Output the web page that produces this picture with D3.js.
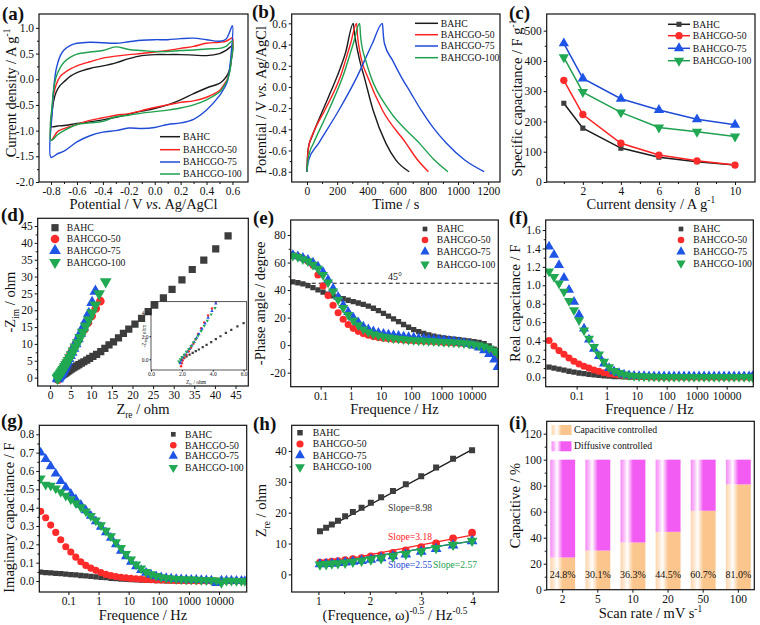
<!DOCTYPE html>
<html>
<head>
<meta charset="utf-8">
<script src="https://cdn.jsdelivr.net/npm/d3@7"></script>
<style>
  body { margin: 0; background: #fff; }
  svg text { font-family: "Liberation Serif", "Times New Roman", serif; fill: #111; }
</style>
</head>
<body>
<div id="viz"></div>
<script>
// ---------- data ----------
const samples = ['BAHC', 'BAHCGO-50', 'BAHCGO-75', 'BAHCGO-100'];

// (a) CV loops: forward (anodic) branch then reverse branch
const cvForwardV = [-0.8,-0.79,-0.78,-0.76,-0.73,-0.7,-0.65,-0.6,-0.5,-0.4,-0.3,-0.2,-0.1,0,0.1,0.2,0.3,0.4,0.5,0.55,0.6];
const cvReverseV = [0.6,0.59,0.58,0.56,0.53,0.5,0.4,0.3,0.2,0.1,0,-0.1,-0.2,-0.3,-0.4,-0.5,-0.6,-0.7,-0.75,-0.8];
const cvForwardI = [
  [-0.92,-0.6,-0.42,-0.25,-0.12,-0.05,0.06,0.13,0.21,0.26,0.32,0.4,0.46,0.48,0.48,0.48,0.47,0.46,0.5,0.56,0.65],
  [-1.19,-0.55,-0.3,-0.1,0.05,0.12,0.2,0.26,0.34,0.41,0.45,0.48,0.5,0.53,0.56,0.6,0.64,0.7,0.72,0.74,0.8],
  [-1.52,-0.6,-0.2,0.2,0.45,0.57,0.66,0.7,0.72,0.71,0.7,0.73,0.76,0.77,0.77,0.79,0.8,0.77,0.74,0.78,1.04],
  [-1.19,-0.45,-0.2,0.05,0.22,0.33,0.43,0.49,0.53,0.56,0.63,0.58,0.56,0.54,0.54,0.56,0.57,0.59,0.6,0.64,0.74]
];
const cvReverseI = [
  [0.65,0.35,0.2,0.08,-0.02,-0.08,-0.17,-0.28,-0.4,-0.5,-0.57,-0.62,-0.68,-0.74,-0.79,-0.83,-0.86,-0.9,-0.91,-0.93],
  [0.8,0.4,0.2,0.0,-0.12,-0.22,-0.35,-0.42,-0.45,-0.5,-0.55,-0.61,-0.67,-0.7,-0.75,-0.8,-0.88,-0.96,-1.02,-1.18],
  [1.04,0.5,0.25,-0.05,-0.2,-0.32,-0.6,-0.78,-0.85,-0.88,-0.94,-0.96,-0.95,-1.0,-1.03,-1.1,-1.22,-1.4,-1.45,-1.55],
  [0.74,0.35,0.15,-0.02,-0.15,-0.25,-0.4,-0.5,-0.56,-0.6,-0.63,-0.66,-0.7,-0.73,-0.82,-0.85,-0.88,-1.0,-1.08,-1.2]
];

// (b) GCD curves
const gcdTime = [
  [0,4,11,33,78,144,200,255,307,315,322,349,378,438,522,589,677],
  [0,4,12,40,118,222,289,329,335,342,362,400,500,655,733,804],
  [0,4,11,78,211,333,433,500,505,513,567,622,689,756,833,922,1044,1173],
  [0,6,15,44,144,238,307,349,355,362,389,422,544,744,844,933]
];
const gcdVolt = [
  [-0.8,-0.65,-0.56,-0.47,-0.31,-0.09,0.1,0.32,0.6,0.5,0.44,0.25,0.1,-0.22,-0.53,-0.69,-0.8],
  [-0.8,-0.67,-0.56,-0.44,-0.22,0.1,0.41,0.6,0.48,0.4,0.25,0.1,-0.22,-0.53,-0.69,-0.8],
  [-0.8,-0.74,-0.69,-0.53,-0.22,0.1,0.41,0.6,0.5,0.41,0.25,0.1,-0.06,-0.22,-0.38,-0.53,-0.69,-0.8],
  [-0.8,-0.7,-0.63,-0.53,-0.22,0.1,0.41,0.6,0.48,0.4,0.25,0.1,-0.22,-0.53,-0.69,-0.8]
];

// (c) rate capability
const currentDensity = [1, 2, 4, 6, 8, 10];
const specCap = [
  [260, 178, 112, 82, 67, 56],
  [336, 223, 128, 89, 70, 56],
  [458, 342, 275, 238, 207, 189],
  [412, 297, 230, 180, 166, 150]
];

// (d) Nyquist
const nyqX = [
  [1.9,2.0,2.15,2.3,2.5,2.7,2.9,3.1,3.35,3.6,3.9,4.2,4.5,4.85,5.2,5.6,6.0,6.5,7.0,7.6,8.2,8.9,9.6,10.4,11.3,12.3,13.3,14.3,15.4,16.6,17.8,19.1,20.6,22.2,23.8,25.4,27.5,29.6,32.0,34.5,37.3,40.2,43.2],
  [1.95,2.0,2.05,2.15,2.3,2.45,2.6,2.75,2.9,3.05,3.25,3.45,3.7,3.95,4.2,4.5,4.85,5.25,5.7,6.2,6.8,7.5,8.3,9.2,10.1,11.1,12.2],
  [1.9,1.95,2.05,2.2,2.35,2.5,2.65,2.8,2.95,3.1,3.3,3.5,3.7,3.95,4.2,4.5,4.85,5.25,5.7,6.2,6.75,7.35,8.0,8.7,9.4,10.2,11.0],
  [1.8,1.9,2.0,2.15,2.3,2.45,2.6,2.75,2.9,3.05,3.25,3.45,3.65,3.9,4.15,4.45,4.8,5.2,5.65,6.15,6.7,7.3,7.95,8.65,9.4,10.2,11.0,11.9,13.5]
];
const nyqY = [
  [-0.3,-0.05,0.1,0.25,0.4,0.55,0.7,0.85,1.05,1.25,1.5,1.75,2.0,2.3,2.55,2.85,3.15,3.5,3.85,4.3,4.7,5.2,5.7,6.3,6.9,7.7,8.7,9.7,10.6,11.8,13.1,14.4,15.9,17.6,19.6,21.5,23.7,26.2,29.0,32.1,34.9,38.2,42.1],
  [-0.6,-0.35,-0.1,0.15,0.4,0.7,1.0,1.35,1.75,2.2,2.7,3.2,3.8,4.4,5.0,5.8,6.6,7.6,8.6,9.8,11.1,12.7,14.3,16.3,18.3,20.5,22.7],
  [-0.35,-0.1,0.15,0.4,0.65,0.9,1.2,1.5,1.85,2.2,2.65,3.1,3.6,4.2,4.85,5.6,6.5,7.5,8.7,10.0,11.5,13.1,14.9,16.9,19.0,22.3,25.6],
  [-0.2,0,0.2,0.4,0.65,0.9,1.15,1.45,1.75,2.05,2.45,2.9,3.35,3.9,4.45,5.1,5.9,6.8,7.9,9.1,10.4,11.9,13.5,15.3,17.2,19.3,21.6,24.9,28.5]
];

// (e)-(g) Bode-type data, shared frequency list (Hz)
const freqHz = [0.012,0.0176,0.0258,0.0379,0.0556,0.0816,
  0.12,0.176,0.258,0.379,0.556,0.816,
  1.2,1.76,2.58,3.79,5.56,8.16,
  12,17.6,25.8,37.9,55.6,81.6,
  120,176,258,379,556,816,
  1200,1760,2580,3790,5560,8160,
  12000,17600,25800,37900,55600,72000];
const phaseDeg = [
  [46,45.3,44.5,43.2,41.8,40.2,38.5,37,35.8,34.7,33.7,32.6,31.6,30.6,29.6,28.3,26.8,25,23,21,19,17,15,13,11.2,9.8,8.5,7.4,6.5,5.8,5.2,4.7,4.3,3.9,3.5,3.1,2.6,2,1,-0.5,-3,-7],
  [65.5,64.5,63,61,58,51,43,36,29,23.5,18.8,15,12.2,10,8.4,7.2,6.2,5.5,5,4.6,4.3,4,3.7,3.4,3.2,3,2.8,2.6,2.4,2.2,2,1.8,1.6,1.3,1,0.6,0,-0.8,-2,-3.5,-5.5,-8.5],
  [65.5,64.5,63.5,62,60,57,53,47.5,41,35,29,24,20,16.5,13.5,11.5,10,9,8.3,7.7,7.2,6.7,6.2,5.8,5.4,5,4.7,4.4,4.1,3.8,3.5,3.1,2.7,2.2,1.6,0.8,-0.3,-1.8,-3.8,-6.5,-10.5,-16],
  [65,64,62.5,61,58.5,55.5,51,45.5,39,33,27,22,18,14.5,11.5,9.5,8,7,6.2,5.6,5.1,4.7,4.3,4,3.7,3.4,3.2,3,2.8,2.6,2.4,2.2,2,1.8,1.5,1.1,0.6,0,-1,-2.3,-4,-6]
];
const realCap = [
  [0.11,0.10,0.088,0.077,0.066,0.056,0.047,0.039,0.032,0.026,0.021,0.016,0.012,0.009,0.007,0.005,0.003,0.002,0.001,0.001,0,0,0,0,0,0,0,0,0,0,0,0,0,0,0,0,0,0,0,0,0,0],
  [0.40,0.34,0.29,0.25,0.21,0.175,0.145,0.12,0.10,0.08,0.065,0.05,0.04,0.032,0.025,0.019,0.014,0.01,0.007,0.005,0.003,0.002,0.001,0,0,0,0,0,0,0,0,0,0,0,0,0,0,0,0,0,0,0],
  [1.42,1.33,1.22,1.08,0.95,0.82,0.68,0.53,0.41,0.31,0.23,0.15,0.10,0.065,0.045,0.03,0.022,0.016,0.014,0.013,0.012,0.012,0.012,0.012,0.012,0.012,0.012,0.012,0.012,0.012,0.012,0.012,0.012,0.012,0.012,0.012,0.012,0.012,0.012,0.012,0.012,0.012],
  [1.15,1.09,1.02,0.93,0.83,0.73,0.62,0.51,0.42,0.33,0.25,0.17,0.11,0.07,0.048,0.032,0.022,0.016,0.012,0.009,0.007,0.006,0.005,0.004,0.004,0.003,0.003,0.003,0.003,0.003,0.003,0.003,0.003,0.003,0.003,0.003,0.003,0.003,0.003,0.003,0.003,0.003]
];
const imagCap = [
  [0.048,0.046,0.044,0.042,0.04,0.038,0.035,0.033,0.03,0.028,0.025,0.023,0.02,0.018,0.015,0.013,0.011,0.009,0.007,0.006,0.005,0.004,0.003,0.002,0.002,0.001,0.001,0.001,0,0,0,0,0,0,0,0,0,0,0,0,0,0],
  [0.38,0.345,0.305,0.265,0.225,0.187,0.158,0.13,0.105,0.085,0.07,0.058,0.046,0.036,0.029,0.024,0.02,0.017,0.014,0.012,0.01,0.008,0.007,0.006,0.005,0.004,0.003,0.002,0.002,0.001,0.001,0,0,0,0,0,0,0,0,0,0,0],
  [0.70,0.665,0.625,0.585,0.545,0.51,0.475,0.445,0.415,0.385,0.355,0.325,0.295,0.265,0.235,0.2,0.165,0.135,0.105,0.08,0.06,0.045,0.034,0.026,0.02,0.016,0.013,0.011,0.009,0.008,0.007,0.006,0.005,0.004,0.003,-0.012,0.003,0.002,0.002,0.001,0.001,0],
  [0.56,0.525,0.52,0.505,0.485,0.465,0.445,0.425,0.403,0.38,0.355,0.33,0.305,0.275,0.245,0.212,0.18,0.148,0.118,0.09,0.068,0.05,0.037,0.028,0.021,0.017,0.014,0.012,0.01,0.009,0.008,0.007,0.006,0.005,0.004,0.003,-0.01,0.002,0.002,0.001,0.001,0]
];

// (h) Zre vs omega^-0.5
const omegaInv = [1.03,1.15,1.26,1.38,1.52,1.67,1.84,2.02,2.22,2.45,2.70,3.0,3.29,3.62,3.99];
const zre = [
  [14.0,15.1,16.2,17.4,18.8,20.2,21.6,23.2,25.0,27.0,29.2,31.8,34.6,37.5,40.2],
  [3.8,3.9,4.1,4.3,4.6,4.9,5.3,5.8,6.2,7.0,7.8,8.8,10.0,11.7,13.5],
  [3.3,3.4,3.5,3.7,3.9,4.1,4.4,4.8,5.3,5.9,6.5,7.4,8.3,9.4,10.8],
  [3.2,3.3,3.5,3.6,3.8,4.1,4.4,4.8,5.2,5.8,6.6,7.5,8.5,9.6,10.9]
];
const fitSlope = [8.98, 3.18, 2.55, 2.57];
const fitIntercept = [4.6, 0.0, 0.6, 0.5];

// (i) capacitive contribution
const scanRates = ['2', '5', '10', '20', '50', '100'];
const capacitivePct = [24.8, 30.1, 36.3, 44.5, 60.7, 81.0];

// tick values
const ticksA = { x: [-0.8,-0.6,-0.4,-0.2,0,0.2,0.4,0.6], y: [-2.0,-1.5,-1.0,-0.5,0,0.5,1.0] };
const ticksB = { x: [0,200,400,600,800,1000,1200], y: [-0.8,-0.6,-0.4,-0.2,0,0.2,0.4,0.6] };
const ticksC = { x: [2,4,6,8,10], y: [0,100,200,300,400,500] };
const ticksD = { x: [0,5,10,15,20,25,30,35,40,45], y: [0,5,10,15,20,25,30,35,40,45] };
const ticksLog = [0.1, 1, 10, 100, 1000, 10000];
const ticksE = [-20, 0, 20, 40, 60, 80];
const ticksF = [0,0.2,0.4,0.6,0.8,1.0,1.2,1.4,1.6];
const ticksG = [0,0.1,0.2,0.3,0.4,0.5,0.6,0.7,0.8];
const ticksH = { x: [1,2,3,4], y: [0,10,20,30,40] };
const ticksI = [0,20,40,60,80,100,120];

// ---------- drawing ----------
const lineColors = ['#1b1b1b', '#ff2020', '#1f4bd6', '#1ea04e'];
const markColors = ['#3d3d3d', '#ff2b2b', '#1f55e6', '#20a852'];
const shapes = [d3.symbolSquare, d3.symbolCircle, d3.symbolTriangle, d3.symbolTriangle];
const turns = [0, 0, 0, 180];
const serif = '"Liberation Serif", "Times New Roman", serif';
const titleSize = 14.5;

const svg = d3.select('#viz').append('svg')
  .attr('width', 760)
  .attr('height', 625)
  .attr('viewBox', '0 0 760 625')
  .attr('font-family', serif);
const defs = svg.append('defs');

function rich(sel, parts, size) {
  let shift = 0;
  parts.forEach(p => {
    const target = p.sup ? -size * 0.4 : p.sub ? size * 0.28 : 0;
    sel.append('tspan')
      .attr('dy', target - shift)
      .attr('font-size', (p.sup || p.sub) ? size * 0.65 : size)
      .attr('font-style', p.it ? 'italic' : null)
      .text(p.t);
    shift = target;
  });
}

function styleAxis(sel, size) {
  sel.attr('font-family', serif).attr('font-size', size || 11.5);
  sel.select('.domain').remove();
  sel.selectAll('.tick line').attr('stroke', '#111');
  sel.selectAll('.tick text').attr('fill', '#111');
}

function mids(t) {
  const m = [];
  for (let i = 0; i < t.length - 1; i++) m.push((t[i] + t[i + 1]) / 2);
  return m;
}

function marker(g, i, cx, cy, size) {
  g.append('path')
    .attr('d', d3.symbol(shapes[i], size)())
    .attr('transform', `translate(${cx},${cy}) rotate(${turns[i]})`)
    .attr('fill', markColors[i]);
}

function makePanel(o) {
  const g = svg.append('g').attr('class', 'panel-' + o.label);
  const x = o.xScale || (o.xLog ? d3.scaleLog() : d3.scaleLinear()).domain(o.xDomain).range([o.left, o.right]);
  const y = d3.scaleLinear().domain(o.yDomain).range([o.bottom, o.top]);

  defs.append('clipPath').attr('id', 'clip-' + o.label)
    .append('rect')
      .attr('x', o.left).attr('y', o.top)
      .attr('width', o.right - o.left).attr('height', o.bottom - o.top);

  // axes
  const xAx = o.xScale ? d3.axisBottom(x) : d3.axisBottom(x).tickValues(o.xTicks);
  g.append('g').attr('transform', `translate(0,${o.bottom})`)
    .call(xAx.tickSize(3).tickPadding(2).tickFormat(o.xFormat || (d => d)))
    .call(styleAxis);
  if (o.xMinor) {
    g.append('g').attr('transform', `translate(0,${o.bottom})`)
      .call(d3.axisBottom(x).tickValues(o.xMinor).tickSize(2).tickFormat(''))
      .call(styleAxis);
  }
  g.append('g').attr('transform', `translate(${o.left},0)`)
    .call(d3.axisLeft(y).tickValues(o.yTicks).tickSize(3).tickPadding(2).tickFormat(o.yFormat || (d => d)))
    .call(styleAxis);
  g.append('g').attr('transform', `translate(${o.left},0)`)
    .call(d3.axisLeft(y).tickValues(mids(o.yTicks)).tickSize(2).tickFormat(''))
    .call(styleAxis);

  const plot = g.append('g').attr('clip-path', `url(#clip-${o.label})`);

  // frame
  g.append('rect')
    .attr('x', o.left).attr('y', o.top)
    .attr('width', o.right - o.left).attr('height', o.bottom - o.top)
    .attr('fill', 'none').attr('stroke', '#111').attr('stroke-width', 1.2);

  // titles
  rich(g.append('text')
    .attr('x', (o.left + o.right) / 2).attr('y', o.xTitleY)
    .attr('text-anchor', 'middle'), o.xTitle, titleSize);
  const cy = (o.top + o.bottom) / 2 + (o.yTitleShift || 0);
  rich(g.append('text')
    .attr('transform', `translate(${o.yTitleX},${cy}) rotate(-90)`)
    .attr('text-anchor', 'middle'), o.yTitle, titleSize);

  g.append('text')
    .attr('x', o.labelX).attr('y', o.labelY)
    .attr('font-size', 19).attr('font-weight', 'bold')
    .text(`(${o.label})`);

  return { g, plot, x, y };
}

function markerLegend(g, mx, tx, ys, size) {
  samples.forEach((s, i) => {
    marker(g, i, mx, ys[i], size[i]);
    g.append('text').attr('x', tx).attr('y', ys[i] + 3.4)
      .attr('font-size', 9.7).text(s);
  });
}

function lineLegend(g, x1, x2, tx, ys, size) {
  samples.forEach((s, i) => {
    g.append('line')
      .attr('x1', x1).attr('x2', x2).attr('y1', ys[i]).attr('y2', ys[i])
      .attr('stroke', lineColors[i]).attr('stroke-width', 1.5);
    if (size) marker(g, i, (x1 + x2) / 2, ys[i], size[i]);
    g.append('text').attr('x', tx).attr('y', ys[i] + 3.4)
      .attr('font-size', 9.7).text(s);
  });
}

const fmt1 = d => d.toFixed(1);
const fmtLog = d => String(d);

// ----- (a) CV -----
const pa = makePanel({
  label: 'a', left: 39, right: 248, top: 14, bottom: 182,
  xDomain: [-0.893, 0.72], yDomain: [-2.0, 1.27],
  xTicks: ticksA.x, xMinor: mids(ticksA.x), yTicks: ticksA.y,
  xFormat: fmt1, yFormat: fmt1,
  xTitle: [{t: 'Potential / V '}, {t: 'vs.', it: 1}, {t: ' Ag/AgCl'}], xTitleY: 209,
  yTitle: [{t: 'Current density / A g'}, {t: '-1', sup: 1}], yTitleX: 16, yTitleShift: -5,
  labelX: 2, labelY: 20
});
const cvLine = d3.line().x(d => pa.x(d[0])).y(d => pa.y(d[1])).curve(d3.curveCatmullRomClosed.alpha(0.5));
samples.forEach((s, i) => {
  const pts = cvForwardV.map((v, k) => [v, cvForwardI[i][k]])
    .concat(cvReverseV.slice(1, -1).map((v, k) => [v, cvReverseI[i][k + 1]]));
  pa.plot.append('path').attr('d', cvLine(pts))
    .attr('fill', 'none').attr('stroke', lineColors[i]).attr('stroke-width', 1.4);
});
lineLegend(pa.g, 160, 180, 183, [136.7, 149.7, 162, 174]);

// ----- (b) GCD -----
const pb = makePanel({
  label: 'b', left: 291.7, right: 500, top: 14, bottom: 182,
  xDomain: [-101, 1278], yDomain: [-0.897, 0.688],
  xTicks: ticksB.x, xMinor: mids(ticksB.x), yTicks: ticksB.y,
  yFormat: fmt1,
  xTitle: [{t: 'Time / s'}], xTitleY: 209,
  yTitle: [{t: 'Potential / V '}, {t: 'vs.', it: 1}, {t: ' Ag/AgCl'}], yTitleX: 266, yTitleShift: 2,
  labelX: 252, labelY: 18
});
const gcdLine = d3.line().x(d => pb.x(d[0])).y(d => pb.y(d[1])).curve(d3.curveMonotoneX);
samples.forEach((s, i) => {
  pb.plot.append('path').attr('d', gcdLine(gcdTime[i].map((t, k) => [t, gcdVolt[i][k]])))
    .attr('fill', 'none').attr('stroke', lineColors[i]).attr('stroke-width', 1.4);
});
lineLegend(pb.g, 415, 438, 440.7, [23.3, 34.7, 46, 57.7]);

// ----- (c) specific capacitance -----
const pc = makePanel({
  label: 'c', left: 546.7, right: 755, top: 14, bottom: 182,
  xDomain: [0.1, 11.05], yDomain: [0, 555],
  xTicks: ticksC.x, xMinor: [1, 3, 5, 7, 9], yTicks: ticksC.y,
  xTitle: [{t: 'Current density / A g'}, {t: '-1', sup: 1}], xTitleY: 209,
  yTitle: [{t: 'Specific capacitance / F g'}, {t: '-1', sup: 1}], yTitleX: 522, yTitleShift: 0,
  labelX: 509, labelY: 19
});
const capSize = [26, 42, 46, 46];
samples.forEach((s, i) => {
  const pts = currentDensity.map((c, k) => [c, specCap[i][k]]);
  pc.plot.append('path')
    .attr('d', d3.line().x(d => pc.x(d[0])).y(d => pc.y(d[1]))(pts))
    .attr('fill', 'none').attr('stroke', lineColors[i]).attr('stroke-width', 1.5);
  pts.forEach(d => marker(pc.plot, i, pc.x(d[0]), pc.y(d[1]), capSize[i]));
});
lineLegend(pc.g, 668, 690, 692.7, [24.3, 35.7, 48.3, 60.7], capSize);

// ----- (d) Nyquist -----
const pd = makePanel({
  label: 'd', left: 37.7, right: 248.3, top: 218.3, bottom: 386,
  xDomain: [-3, 48.1], yDomain: [-2.5, 47.3],
  xTicks: ticksD.x, yTicks: ticksD.y,
  xTitle: [{t: 'Z'}, {t: 're', sub: 1}, {t: ' / ohm'}], xTitleY: 413.5,
  yTitle: [{t: '-Z'}, {t: 'im', sub: 1}, {t: ' / ohm'}], yTitleX: 15,
  labelX: 1, labelY: 221
});
const nyqSize = [52, 58, 60, 60];
samples.forEach((s, i) => {
  nyqX[i].forEach((v, k) => marker(pd.plot, i, pd.x(v), pd.y(nyqY[i][k]), nyqSize[i]));
});
markerLegend(pd.g, 55, 66.7, [227.7, 239, 250.7, 262.3], nyqSize);

// inset
const inset = { left: 151, right: 246.7, top: 301.7, bottom: 370 };
const insX = d3.scaleLinear().domain([0, 6.2]).range([inset.left, inset.right]);
const insY = d3.scaleLinear().domain([-0.93, 5.0]).range([inset.bottom, inset.top]);
defs.append('clipPath').attr('id', 'clip-inset').append('rect')
  .attr('x', inset.left).attr('y', inset.top)
  .attr('width', inset.right - inset.left).attr('height', inset.bottom - inset.top);
const insG = pd.g.append('g');
insG.append('g').attr('transform', `translate(0,${inset.bottom})`)
  .call(d3.axisBottom(insX).tickValues([0, 2, 4, 6]).tickSize(1.5).tickPadding(1))
  .call(styleAxis, 5.5);
insG.append('g').attr('transform', `translate(${inset.left},0)`)
  .call(d3.axisLeft(insY).tickValues([0, 2, 4]).tickSize(1.5).tickPadding(1))
  .call(styleAxis, 5.5);
const insPlot = insG.append('g').attr('clip-path', 'url(#clip-inset)');
samples.forEach((s, i) => {
  nyqX[i].forEach((v, k) => marker(insPlot, i, insX(v), insY(nyqY[i][k]), 5));
});
insG.append('rect')
  .attr('x', inset.left).attr('y', inset.top)
  .attr('width', inset.right - inset.left).attr('height', inset.bottom - inset.top)
  .attr('fill', 'none').attr('stroke', '#111').attr('stroke-width', 0.7);
rich(insG.append('text').attr('x', 196).attr('y', 383.5).attr('text-anchor', 'middle'),
  [{t: 'Z'}, {t: 're', sub: 1}, {t: ' / ohm'}], 5.5);
rich(insG.append('text').attr('transform', 'translate(145.5,336) rotate(-90)').attr('text-anchor', 'middle'),
  [{t: '-Z'}, {t: 'im', sub: 1}, {t: ' / ohm'}], 5.5);

// ----- (e) phase angle -----
const bodeSize = [28, 40, 44, 44];
const pe = makePanel({
  label: 'e', left: 290.7, right: 498.3, top: 220, bottom: 386.7,
  xLog: true, xDomain: [0.0102, 76000], yDomain: [-30.2, 90.9],
  xTicks: ticksLog, yTicks: ticksE, xFormat: fmtLog,
  xTitle: [{t: 'Frequence / Hz'}], xTitleY: 414,
  yTitle: [{t: '-Phase angle / degree'}], yTitleX: 265,
  labelX: 253, labelY: 224
});
pe.plot.append('line')
  .attr('x1', 290.7).attr('x2', 498.3)
  .attr('y1', pe.y(45)).attr('y2', pe.y(45))
  .attr('stroke', '#111').attr('stroke-width', 1.1).attr('stroke-dasharray', '4,3');
pe.g.append('text').attr('x', 388).attr('y', pe.y(45) - 3.5).attr('font-size', 10).text('45°');
samples.forEach((s, i) => {
  freqHz.forEach((f, k) => marker(pe.plot, i, pe.x(f), pe.y(phaseDeg[i][k]), bodeSize[i]));
});
markerLegend(pe.g, 425, 436.7, [229, 240, 251.7, 264.3], [22, 34, 38, 38]);

// ----- (f) real capacitance -----
const pf = makePanel({
  label: 'f', left: 545.7, right: 753.3, top: 220, bottom: 386.7,
  xLog: true, xDomain: [0.0093, 77000], yDomain: [-0.102, 1.709],
  xTicks: ticksLog, yTicks: ticksF, xFormat: fmtLog, yFormat: fmt1,
  xTitle: [{t: 'Frequence / Hz'}], xTitleY: 414,
  yTitle: [{t: 'Real capacitance / F'}], yTitleX: 520,
  labelX: 509, labelY: 224
});
samples.forEach((s, i) => {
  freqHz.forEach((f, k) => marker(pf.plot, i, pf.x(f), pf.y(realCap[i][k]), bodeSize[i]));
});
markerLegend(pf.g, 681, 693.3, [229, 240, 251.7, 263.3], [22, 34, 38, 38]);

// ----- (g) imaginary capacitance -----
const pg = makePanel({
  label: 'g', left: 39.3, right: 246.7, top: 425.3, bottom: 592,
  xLog: true, xDomain: [0.0108, 83000], yDomain: [-0.06, 0.849],
  xTicks: ticksLog, yTicks: ticksG, xFormat: fmtLog, yFormat: fmt1,
  xTitle: [{t: 'Frequence / Hz'}], xTitleY: 620,
  yTitle: [{t: 'Imaginary capacitance / F'}], yTitleX: 14, yTitleShift: 9,
  labelX: 1, labelY: 427
});
samples.forEach((s, i) => {
  freqHz.forEach((f, k) => marker(pg.plot, i, pg.x(f), pg.y(imagCap[i][k]), bodeSize[i]));
});
markerLegend(pg.g, 173.3, 185, [434.3, 445.3, 456, 467.7], [22, 34, 38, 38]);

// ----- (h) Zre vs omega^-0.5 -----
const ph = makePanel({
  label: 'h', left: 291.7, right: 498.3, top: 425.3, bottom: 592,
  xDomain: [0.48, 4.5], yDomain: [-5.7, 48.3],
  xTicks: ticksH.x, xMinor: mids(ticksH.x), yTicks: ticksH.y,
  xTitle: [{t: '(Frequence, ω)'}, {t: '-0.5', sup: 1}, {t: ' / Hz'}, {t: '-0.5', sup: 1}], xTitleY: 620,
  yTitle: [{t: 'Z'}, {t: 're', sub: 1}, {t: ' / ohm'}], yTitleX: 266, yTitleShift: 2,
  labelX: 253, labelY: 430
});
const warbSize = [36, 48, 50, 50];
samples.forEach((s, i) => {
  const x0 = omegaInv[0], x1 = omegaInv[omegaInv.length - 1];
  ph.plot.append('line')
    .attr('x1', ph.x(x0)).attr('y1', ph.y(fitSlope[i] * x0 + fitIntercept[i]))
    .attr('x2', ph.x(x1)).attr('y2', ph.y(fitSlope[i] * x1 + fitIntercept[i]))
    .attr('stroke', lineColors[i]).attr('stroke-width', 1.3);
  omegaInv.forEach((w, k) => marker(ph.plot, i, ph.x(w), ph.y(zre[i][k]), warbSize[i]));
});
markerLegend(ph.g, 300, 312.7, [432.7, 444, 455.3, 467], [30, 40, 42, 42]);
const slopePos = [[388, 511], [388, 540], [388, 568], [433, 568]];
const slopeColors = ['#333', '#ff2020', '#1f4bd6', '#1ea04e'];
fitSlope.forEach((s, i) => {
  ph.g.append('text').attr('x', slopePos[i][0]).attr('y', slopePos[i][1])
    .attr('font-size', 9.6).style('fill', slopeColors[i]).text('Slope=' + s.toFixed(2));
});

// ----- (i) capacitive contribution -----
function barGradient(id, color) {
  const lg = defs.append('linearGradient').attr('id', id).attr('x1', 0).attr('x2', 1).attr('y1', 0).attr('y2', 0);
  [[0, color, 0.7], [0.27, '#ffffff', 1], [0.5, color, 1], [1, color, 1]].forEach(s => {
    lg.append('stop').attr('offset', s[0]).attr('stop-color', s[1]).attr('stop-opacity', s[2]);
  });
}
barGradient('gradCap', '#fbc68e');
barGradient('gradDif', '#f25cf2');

const bandX = d3.scaleBand().domain(scanRates).range([546.7, 754.3]).paddingInner(0.29).paddingOuter(0.1);
const pi = makePanel({
  label: 'i', left: 546.7, right: 754.3, top: 421.3, bottom: 589.7,
  xScale: bandX, yDomain: [0, 129.5], yTicks: ticksI,
  xTitle: [{t: 'Scan rate / mV s'}, {t: '-1', sup: 1}], xTitleY: 618,
  yTitle: [{t: 'Capacitive / %'}], yTitleX: 520,
  labelX: 509, labelY: 429
});
pi.plot.selectAll('.cap').data(scanRates).join('rect')
  .attr('x', d => bandX(d)).attr('width', bandX.bandwidth())
  .attr('y', (d, k) => pi.y(capacitivePct[k]))
  .attr('height', (d, k) => pi.y(0) - pi.y(capacitivePct[k]))
  .attr('fill', 'url(#gradCap)');
pi.plot.selectAll('.dif').data(scanRates).join('rect')
  .attr('x', d => bandX(d)).attr('width', bandX.bandwidth())
  .attr('y', pi.y(100))
  .attr('height', (d, k) => pi.y(capacitivePct[k]) - pi.y(100))
  .attr('fill', 'url(#gradDif)');
pi.g.selectAll('.pct').data(scanRates).join('text')
  .attr('x', d => bandX(d) + bandX.bandwidth() / 2).attr('y', 578)
  .attr('text-anchor', 'middle').attr('font-size', 10)
  .text((d, k) => capacitivePct[k].toFixed(1) + '%');
[['gradCap', 'Capacitive controlled', 425], ['gradDif', 'Diffusive controlled', 441.3]].forEach(r => {
  pi.g.append('rect').attr('x', 551.5).attr('y', r[2]).attr('width', 20).attr('height', 10).attr('fill', `url(#${r[0]})`);
  pi.g.append('text').attr('x', 574).attr('y', r[2] + 8).attr('font-size', 9.7).text(r[1]);
});
</script>
</body>
</html>
